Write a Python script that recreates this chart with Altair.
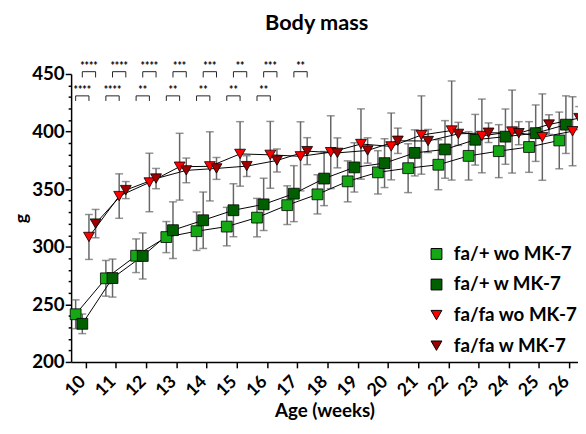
import altair as alt
import pandas as pd

# ---------------- data ----------------
weeks = list(range(10, 27))
series_names = ["fa/+ wo MK-7", "fa/+ w MK-7", "fa/fa wo MK-7", "fa/fa w MK-7"]

fa_plus_wo_mean = [241.4, 272.6, 292.2, 308.4, 313.5, 317.5, 325.3, 336.1, 345.5,
                   356.8, 364.6, 368.2, 371.2, 378.9, 383.0, 386.6, 392.3]
fa_plus_wo_sd = [12.5, 15.5, 14.6, 13.5, 16.7, 16.7, 16.7, 16.8, 17.0,
                 17.8, 18.8, 21.2, 21.7, 21.0, 23.0, 22.0, 24.6]

fa_plus_w_mean = [233.1, 272.8, 292.0, 314.4, 323.0, 331.7, 336.8, 346.1, 359.2,
                  368.9, 372.6, 381.5, 384.5, 392.9, 395.6, 398.6, 406.0]
fa_plus_w_sd = [8.5, 16.5, 20.0, 24.6, 24.5, 23.0, 22.7, 24.3, 23.5,
                21.4, 21.2, 20.0, 25.0, 22.0, 24.0, 24.5, 25.0]

fa_fa_wo_mean = [308.5, 344.0, 355.8, 369.5, 369.8, 380.6, 379.8, 378.5, 382.1,
                 389.2, 387.1, 397.0, 400.9, 396.2, 400.0, 395.2, 400.3]
fa_fa_wo_sd = [19.5, 19.3, 25.4, 29.0, 30.0, 28.0, 29.0, 30.0, 31.6,
               30.5, 29.0, 34.0, 43.0, 32.0, 36.0, 37.5, 30.0]

fa_fa_w_mean = [320.1, 349.2, 359.2, 366.3, 368.0, 370.0, 374.9, 383.0, 381.5,
                383.6, 392.0, 391.8, 398.0, 399.0, 398.6, 406.1, 411.7]
fa_fa_w_sd = [12.3, 7.4, 8.8, 10.7, 9.5, 9.0, 10.0, 11.7, 13.0,
              11.0, 11.0, 10.0, 10.0, 8.5, 10.0, 8.5, 10.0]

# significance: fa/+ w vs fa/fa w (upper row), fa/+ wo vs fa/fa wo (lower row)
sig_w_weeks = [10, 11, 12, 13, 14, 15, 16, 17]
sig_w_labels = ["****", "****", "****", "***", "***", "**", "***", "**"]
sig_wo_weeks = [10, 11, 12, 13, 14, 15, 16]
sig_wo_labels = ["****", "****", "**", "**", "**", "**", "**"]

y_ticks = list(range(200, 451, 10))

# ---------------- styles ----------------
colors = ["#14A814", "#006000", "#FF0000", "#A00000"]
shapes = ["square", "square", "triangle-down", "triangle-down"]
sizes = [121, 121, 170, 170]
offsets = [-0.33, -0.11, 0.11, 0.33]   # horizontal dodge (weeks)
FONT = "Lato"

means = [fa_plus_wo_mean, fa_plus_w_mean, fa_fa_wo_mean, fa_fa_w_mean]
sds = [fa_plus_wo_sd, fa_plus_w_sd, fa_fa_wo_sd, fa_fa_w_sd]

rows = []
for name, mlist, slist, off in zip(series_names, means, sds, offsets):
    for w, m, s in zip(weeks, mlist, slist):
        rows.append({"series": name, "week": w, "mean": m, "sd": s, "off": off})
df = pd.DataFrame(rows)

# brackets
br_rows, txt_rows = [], []
specs = [
    (sig_w_weeks, sig_w_labels, offsets[1], offsets[3], 447.0, 452.0, "w"),
    (sig_wo_weeks, sig_wo_labels, offsets[0], offsets[2], 426.6, 431.0, "wo"),
]
for wks, labs, o1, o2, ylo, yhi, tag in specs:
    for w, lab in zip(wks, labs):
        bid = f"{tag}{w}"
        pts = [(w + o1, ylo), (w + o1, yhi), (w + o2, yhi), (w + o2, ylo)]
        for i, (xx, yy) in enumerate(pts):
            br_rows.append({"id": bid, "ord": i, "x": xx, "y": yy})
        txt_rows.append({"x": w + (o1 + o2) / 2, "y": yhi, "label": lab})
br_df = pd.DataFrame(br_rows)
txt_df = pd.DataFrame(txt_rows)

xscale = alt.Scale(domain=[9.52, 26.29], nice=False, zero=False)
yscale = alt.Scale(domain=[200, 450], nice=False, zero=False)

x_axis = alt.Axis(values=weeks, format="d", labelAngle=-45, labelAlign="right",
                  labelBaseline="middle", tickSize=6, labelPadding=11, labelOffset=-3,
                  labelFontSize=18,
                  title="Age (weeks)", titleFontSize=19, titleY=55,
                  titleBaseline="alphabetic", grid=False, labelOverlap=False)
y_axis = alt.Axis(values=y_ticks,
                  labelExpr="datum.value % 50 === 0 ? datum.label : ''",
                  tickSize={"condition": {"test": "datum.value % 50 === 0", "value": 6}, "value": 3},
                  labelPadding=1, labelOverlap=False, grid=False, labelFontSize=19,
                  title="g", titleAngle=-90, titleX=-50, titleY=146,
                  titleAlign="center", titleBaseline="middle", titleFontSize=18)

X = lambda f: alt.X(f, scale=xscale, axis=x_axis)
Y = lambda f: alt.Y(f, scale=yscale, axis=y_axis)

base = alt.Chart(df).transform_calculate(
    xpos="datum.week + datum.off",
    lo="datum.mean - datum.sd",
    hi="datum.mean + datum.sd",
)

legend = alt.Legend(orient="none", legendX=361, legendY=173, title=None,
                    labelFont=FONT, labelFontSize=19, labelFontWeight="bold",
                    labelColor="black", symbolSize=90, symbolStrokeColor="black",
                    symbolStrokeWidth=1, rowPadding=11, labelOffset=8, padding=0)

errbars = base.mark_errorbar(ticks=True, size=8, thickness=1.5, color="#666666").encode(
    x=X("xpos:Q"),
    y=Y("lo:Q"),
    y2="hi:Q",
    detail="series:N",
)

lines = base.mark_line(color="black", strokeWidth=1).encode(
    x=X("xpos:Q"),
    y=Y("mean:Q"),
    detail="series:N",
)

points = base.mark_point(filled=True, opacity=1, stroke="black", strokeWidth=0.8).encode(
    x=X("xpos:Q"),
    y=Y("mean:Q"),
    color=alt.Color("series:N", scale=alt.Scale(domain=series_names, range=colors), legend=legend),
    shape=alt.Shape("series:N", scale=alt.Scale(domain=series_names, range=shapes), legend=legend),
    size=alt.Size("series:N", scale=alt.Scale(domain=series_names, range=sizes), legend=None),
)

brackets = alt.Chart(br_df).mark_line(color="#222222", strokeWidth=1).encode(
    x=X("x:Q"),
    y=Y("y:Q"),
    detail="id:N",
    order="ord:Q",
)

stars = alt.Chart(txt_df).mark_text(font=FONT, fontSize=10.5, fontWeight="bold",
                                     baseline="alphabetic", dy=-2, color="black").encode(
    x=X("x:Q"),
    y=Y("y:Q"),
    text="label:N",
)

chart = alt.layer(errbars, lines, points, brackets, stars).properties(
    width=514, height=292,
    padding={"left": 64, "top": 64, "right": 0, "bottom": 58},
    autosize=alt.AutoSizeParams(type="none"),
    title=alt.TitleParams(text="Body mass", font=FONT, fontSize=22, fontWeight="bold",
                          anchor="middle", frame="group", baseline="bottom",
                          offset=5, dx=-8, color="black"),
).configure_view(stroke=None).configure_axis(
    labelFont=FONT, labelFontWeight="bold", labelColor="black",
    titleFont=FONT, titleFontWeight="bold", titleColor="black",
    domainColor="black", domainWidth=1.5, tickColor="black", tickWidth=1.5,
)

chart.save("out.html", embed_options={"renderer": "svg", "actions": False})
